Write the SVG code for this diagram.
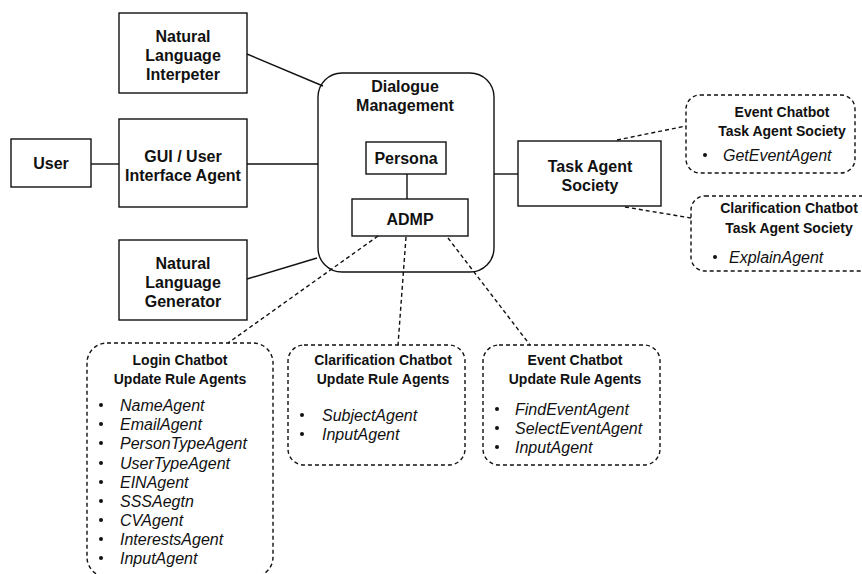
<svg xmlns="http://www.w3.org/2000/svg" width="862" height="574" viewBox="0 0 862 574">
  <style>
    .box { fill: #ffffff; stroke: #111111; stroke-width: 1.4; }
    .dbox { fill: #ffffff; stroke: #111111; stroke-width: 1.4; stroke-dasharray: 4 3; }
    .link { fill: none; stroke: #111111; stroke-width: 1.4; }
    .dlink { fill: none; stroke: #111111; stroke-width: 1.4; stroke-dasharray: 4 3; }
    .lbl { font-family: "Liberation Sans", Arial, sans-serif; font-weight: bold; font-size: 16px; fill: #111111; text-anchor: middle; }
    .ttl { font-family: "Liberation Sans", Arial, sans-serif; font-weight: bold; font-size: 14px; fill: #111111; text-anchor: middle; }
    .item { font-family: "Liberation Sans", Arial, sans-serif; font-style: italic; font-size: 16px; fill: #111111; }
    .dot { fill: #111111; }
  </style>

  <g id="user">
    <rect class="box" x="11" y="139" width="80" height="48"/>
    <text class="lbl" x="51" y="169">User</text>
  </g>

  <g id="nl-interpreter">
    <rect class="box" x="119" y="13" width="128" height="80"/>
    <text class="lbl" x="183" y="42">Natural</text>
    <text class="lbl" x="183" y="61">Language</text>
    <text class="lbl" x="183" y="80">Interpeter</text>
  </g>

  <g id="gui-agent">
    <rect class="box" x="119" y="119" width="128" height="88"/>
    <text class="lbl" x="183" y="162">GUI / User</text>
    <text class="lbl" x="183" y="181">Interface Agent</text>
  </g>

  <g id="nl-generator">
    <rect class="box" x="119" y="240" width="128" height="80"/>
    <text class="lbl" x="183" y="269">Natural</text>
    <text class="lbl" x="183" y="288">Language</text>
    <text class="lbl" x="183" y="307">Generator</text>
  </g>

  <g id="dialogue-management">
    <rect class="box" x="318" y="73" width="176" height="199" rx="24" ry="24"/>
    <text class="lbl" x="405" y="92">Dialogue</text>
    <text class="lbl" x="405" y="111">Management</text>
  </g>

  <g id="persona">
    <rect class="box" x="366" y="142" width="80" height="32"/>
    <text class="lbl" x="406" y="164">Persona</text>
  </g>

  <g id="admp">
    <rect class="box" x="352" y="199" width="116" height="37"/>
    <text class="lbl" x="410" y="225">ADMP</text>
  </g>

  <g id="task-agent-society">
    <rect class="box" x="518" y="141" width="143" height="65"/>
    <text class="lbl" x="590" y="172">Task Agent</text>
    <text class="lbl" x="590" y="191">Society</text>
  </g>

  <g id="event-task-society">
    <rect class="dbox" x="686" y="95" width="169" height="78" rx="14" ry="14"/>
    <text class="ttl" x="782" y="117">Event Chatbot</text>
    <text class="ttl" x="782" y="136">Task Agent Society</text>
    <circle class="dot" cx="705" cy="155" r="2"/>
    <text class="item" x="723" y="161">GetEventAgent</text>
  </g>

  <g id="clarification-task-society">
    <rect class="dbox" x="691" y="196" width="190" height="75" rx="14" ry="14"/>
    <text class="ttl" x="789" y="213">Clarification Chatbot</text>
    <text class="ttl" x="789" y="233">Task Agent Society</text>
    <circle class="dot" cx="715" cy="257" r="2"/>
    <text class="item" x="729" y="263">ExplainAgent</text>
  </g>

  <g id="login-rule-agents">
    <rect class="dbox" x="87" y="343" width="186" height="234" rx="20" ry="20"/>
    <text class="ttl" x="180" y="365">Login Chatbot</text>
    <text class="ttl" x="180" y="384">Update Rule Agents</text>
    <g>
      <circle class="dot" cx="101" cy="405" r="2"/>
      <circle class="dot" cx="101" cy="424" r="2"/>
      <circle class="dot" cx="101" cy="443" r="2"/>
      <circle class="dot" cx="101" cy="463" r="2"/>
      <circle class="dot" cx="101" cy="482" r="2"/>
      <circle class="dot" cx="101" cy="501" r="2"/>
      <circle class="dot" cx="101" cy="520" r="2"/>
      <circle class="dot" cx="101" cy="539" r="2"/>
      <circle class="dot" cx="101" cy="558" r="2"/>
    </g>
    <text class="item" x="120" y="411">NameAgent</text>
    <text class="item" x="120" y="430">EmailAgent</text>
    <text class="item" x="120" y="449">PersonTypeAgent</text>
    <text class="item" x="120" y="469">UserTypeAgent</text>
    <text class="item" x="120" y="488">EINAgent</text>
    <text class="item" x="120" y="507">SSSAegtn</text>
    <text class="item" x="120" y="526">CVAgent</text>
    <text class="item" x="120" y="545">InterestsAgent</text>
    <text class="item" x="120" y="564">InputAgent</text>
  </g>

  <g id="clarification-rule-agents">
    <rect class="dbox" x="288" y="345" width="177" height="120" rx="16" ry="16"/>
    <text class="ttl" x="383" y="365">Clarification Chatbot</text>
    <text class="ttl" x="383" y="384">Update Rule Agents</text>
    <circle class="dot" cx="302" cy="415" r="2"/>
    <circle class="dot" cx="302" cy="434" r="2"/>
    <text class="item" x="322" y="421">SubjectAgent</text>
    <text class="item" x="322" y="440">InputAgent</text>
  </g>

  <g id="event-rule-agents">
    <rect class="dbox" x="483" y="345" width="177" height="120" rx="16" ry="16"/>
    <text class="ttl" x="575" y="365">Event Chatbot</text>
    <text class="ttl" x="575" y="384">Update Rule Agents</text>
    <circle class="dot" cx="497" cy="409" r="2"/>
    <circle class="dot" cx="497" cy="428" r="2"/>
    <circle class="dot" cx="497" cy="447" r="2"/>
    <text class="item" x="515" y="415">FindEventAgent</text>
    <text class="item" x="515" y="434">SelectEventAgent</text>
    <text class="item" x="515" y="453">InputAgent</text>
  </g>

  <!-- connectors, drawn on top so the ones inside Dialogue Management stay visible -->
  <g id="connectors">
    <line class="link" x1="91" y1="164" x2="119" y2="164"/>
    <line class="link" x1="247" y1="54" x2="323" y2="86"/>
    <line class="link" x1="247" y1="164" x2="318" y2="164"/>
    <line class="link" x1="247" y1="279" x2="317" y2="258"/>
    <line class="link" x1="494" y1="174" x2="518" y2="174"/>
    <line class="link" x1="407" y1="174" x2="407" y2="199"/>
    <line class="dlink" x1="378" y1="236" x2="228" y2="343"/>
    <line class="dlink" x1="406" y1="237" x2="398" y2="345"/>
    <line class="dlink" x1="448" y1="238" x2="530" y2="345"/>
    <line class="dlink" x1="617" y1="140" x2="686" y2="126"/>
    <line class="dlink" x1="625" y1="207" x2="691" y2="218"/>
  </g>
</svg>
